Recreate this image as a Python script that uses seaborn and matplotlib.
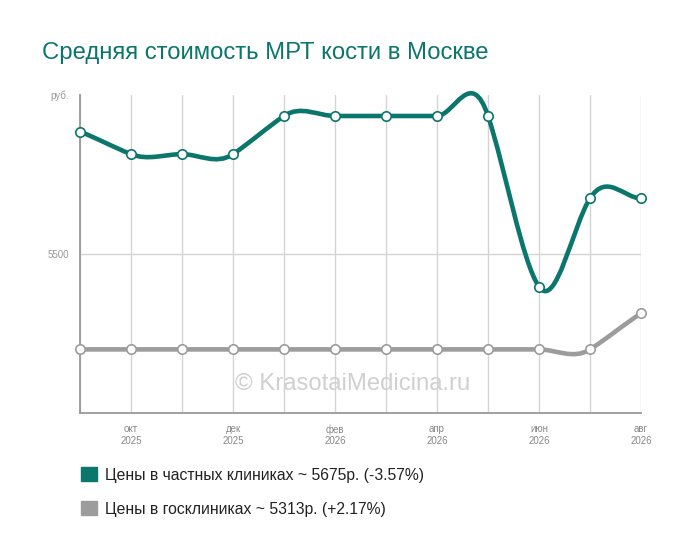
import matplotlib
matplotlib.use("Agg")
import matplotlib.pyplot as plt
import pandas as pd
import seaborn as sns
from matplotlib.path import Path
from matplotlib.patches import PathPatch, Patch

# Data
months = ["сен", "окт", "ноя", "дек", "янв", "фев", "мар", "апр", "май", "июн", "июл", "авг"]
years = ["2025", "2025", "2025", "2025", "2026", "2026", "2026", "2026", "2026", "2026", "2026", "2026"]
private_prices = [5885, 5814, 5814, 5814, 5934, 5934, 5934, 5934, 5934, 5397, 5675, 5675]
public_prices = [5200, 5200, 5200, 5200, 5200, 5200, 5200, 5200, 5200, 5200, 5200, 5313]
private_label = "Цены в частных клиниках ~ 5675р. (-3.57%)"
public_label = "Цены в госклиниках ~ 5313р. (+2.17%)"
title = "Средняя стоимость МРТ кости в Москве"

teal = "#0b766c"
grey = "#9c9c9c"

sns.set_style("white")
plt.rcParams["font.family"] = ["Liberation Sans", "DejaVu Sans"]

df = pd.DataFrame({"idx": list(range(len(months))), "private": private_prices, "public": public_prices})


def smooth_path(xs, ys, k=0.9):
    # cardinal-spline style curve as cubic bezier segments
    n = len(xs)
    m = []
    for i in range(n):
        if i == 0:
            m.append(k * (ys[1] - ys[0]))
        elif i == n - 1:
            m.append(k * (ys[-1] - ys[-2]))
        else:
            m.append(k * (ys[i + 1] - ys[i - 1]))
    verts = [(xs[0], ys[0])]
    codes = [Path.MOVETO]
    for i in range(n - 1):
        dx = xs[i + 1] - xs[i]
        verts += [(xs[i] + dx / 3, ys[i] + m[i] * dx / 3),
                  (xs[i + 1] - dx / 3, ys[i + 1] - m[i + 1] * dx / 3),
                  (xs[i + 1], ys[i + 1])]
        codes += [Path.CURVE4] * 3
    return Path(verts, codes)


fig = plt.figure(figsize=(7, 5.57), dpi=100)
ax = fig.add_axes([80 / 700, 1 - 413 / 557, 561 / 700, 318 / 557])

ax.set_xlim(0, 11)
ax.set_ylim(5000, 6000)

# grid
ax.set_xticks([1, 3, 5, 7, 9, 11])
ax.set_xticklabels([f"{months[i]}\n{years[i]}" for i in [1, 3, 5, 7, 9, 11]])
ax.set_xticks([0, 2, 4, 6, 8, 10], minor=True)
ax.grid(axis="x", which="both", color="#d4d4d4", lw=1, zorder=0)
ax.axhline(5500, color="#d4d4d4", lw=1, zorder=0)
ax.set_yticks([5000, 5500, 6000])
ax.set_yticklabels(["", "5500", "руб."])

# smooth lines
for col, color in [("public", grey), ("private", teal)]:
    path = smooth_path(df["idx"].tolist(), df[col].tolist())
    ax.add_patch(PathPatch(path, facecolor="none", edgecolor=color, lw=3.3,
                           capstyle="round", joinstyle="round", zorder=3, clip_on=False))
    sns.scatterplot(data=df, x="idx", y=col, color="white", edgecolor=color, s=46,
                    linewidth=1.2, zorder=5, clip_on=False, legend=False, ax=ax)

ax.set_xlabel("")
ax.set_ylabel("")
for side in ["top", "right"]:
    ax.spines[side].set_visible(False)
for side in ["left", "bottom"]:
    ax.spines[side].set_color("#999999")
    ax.spines[side].set_linewidth(1.3)
ax.tick_params(axis="both", which="major", colors="#999999", labelsize=7, length=6, width=1, pad=2)
ax.tick_params(axis="x", which="minor", length=0)
ax.tick_params(axis="x", labelcolor="#888888")

fig.text(42 / 700, 1 - 59 / 557, title, color=teal, fontsize=17.2, va="baseline")
fig.text(353 / 700, 1 - 384 / 557, "© KrasotaiMedicina.ru", color="#d0d0d0",
         fontsize=17.2, ha="center", va="center")

handles = [Patch(facecolor=teal, edgecolor=teal), Patch(facecolor=grey, edgecolor=grey)]
fig.legend(handles, [private_label, public_label], loc="upper left",
           bbox_to_anchor=(67 / 700, 1 - 453 / 557), frameon=False, fontsize=11.3,
           handlelength=1.0, handleheight=1.0, handletextpad=0.55, labelspacing=1.2,
           labelcolor="#222222")

fig.savefig("out.png", dpi=100)
